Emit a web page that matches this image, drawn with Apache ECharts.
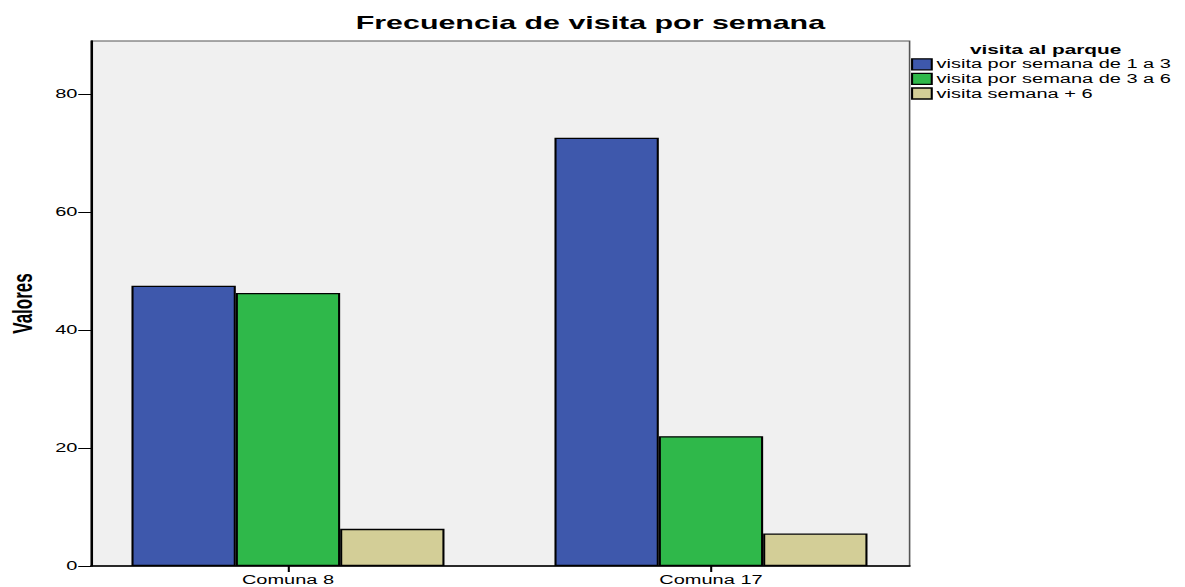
<!DOCTYPE html>
<html>
<head>
<meta charset="utf-8">
<script src="https://cdn.jsdelivr.net/npm/echarts@6/dist/echarts.min.js"></script>
<style>
  html, body { margin: 0; padding: 0; background: #fff; overflow: hidden; }
  #wrap { width: 1185px; height: 587px; overflow: hidden; }
  /* la imagen original esta estirada en horizontal */
  #chart { width: 740.625px; height: 587px; transform: scaleX(1.6); transform-origin: 0 0; }
</style>
</head>
<body>
<div id="wrap"><div id="chart"></div></div>
<script>
// datos
var categorias = ['Comuna 8', 'Comuna 17'];
var serieNombres = ['visita por semana de 1 a 3', 'visita por semana de 3 a 6', 'visita semana + 6'];
var visita1a3 = [47.5, 72.6];
var visita3a6 = [46.3, 22.0];
var visitaMas6 = [6.3, 5.5];
var colores = ['#3e58ac', '#2fb84a', '#d3ce97'];

var font = 'Liberation Sans, Arial, sans-serif';

var myChart = echarts.init(document.getElementById('chart'), null, { renderer: 'svg' });

function barra(nombre, datos, color) {
  return {
    name: nombre,
    type: 'bar',
    xAxisIndex: 1,
    yAxisIndex: 1,
    barGap: '0%',
    barCategoryGap: '26%',
    itemStyle: {
      color: color,
      borderColor: '#000',
      borderWidth: 1.3
    },
    data: datos
  };
}

var option = {
  animation: false,
  backgroundColor: '#fff',
  title: [
    {
      text: 'Frecuencia de visita por semana',
      left: 369,
      top: 13,
      padding: 0,
      textAlign: 'center',
      textStyle: { fontFamily: font, fontWeight: 'bold', fontSize: 19, color: '#000' }
    },
    {
      text: 'visita al parque',
      left: 653.5,
      top: 43,
      padding: 0,
      textAlign: 'center',
      textStyle: { fontFamily: font, fontWeight: 'bold', fontSize: 13, color: '#000' }
    }
  ],
  legend: {
    orient: 'vertical',
    left: 569.4,
    top: 57,
    padding: 0,
    itemWidth: 12.3,
    itemHeight: 11,
    itemGap: 0,
    icon: 'rect',
    data: serieNombres,
    itemStyle: { borderColor: '#000', borderWidth: 1.3 },
    textStyle: { fontFamily: font, fontSize: 12.5, lineHeight: 14.6, color: '#000', padding: [0, 0, 0, -2] }
  },
  grid: [
    {
      left: 56.9,
      right: 172.5,
      top: 41,
      bottom: 21,
      outerBoundsMode: 'none',
      show: true,
      backgroundColor: '#f0f0f0',
      borderColor: '#555',
      borderWidth: 1
    },
    {
      left: 47.8,
      width: 528.75,
      top: 41,
      bottom: 21,
      outerBoundsMode: 'none'
    }
  ],
  xAxis: [
    {
      gridIndex: 0,
      type: 'category',
      data: categorias,
      axisLine: { lineStyle: { color: '#000', width: 1.5 } },
      axisTick: { show: false },
      axisLabel: { show: false },
      splitLine: { show: false }
    },
    {
      gridIndex: 1,
      type: 'category',
      data: categorias,
      axisLine: { show: false },
      axisTick: { show: true, alignWithLabel: true, length: 6, lineStyle: { color: '#000', width: 1.3 } },
      axisLabel: { fontFamily: font, fontSize: 12.5, color: '#000', margin: 7 },
      splitLine: { show: false }
    }
  ],
  yAxis: [
    {
      gridIndex: 0,
      type: 'value',
      min: 0,
      max: 89,
      interval: 20,
      name: 'Valores',
      nameLocation: 'middle',
      nameGap: 34.5,
      nameTextStyle: { fontFamily: font, fontWeight: 'bold', fontSize: 17, color: '#000' },
      axisLine: { show: true, lineStyle: { color: '#000', width: 1.3 } },
      axisTick: { show: true, length: 8, lineStyle: { color: '#000', width: 1 } },
      axisLabel: { fontFamily: font, fontSize: 12.5, color: '#000', margin: 8.5, showMaxLabel: false },
      splitLine: { show: false }
    },
    {
      gridIndex: 1,
      type: 'value',
      min: 0,
      max: 89,
      show: false,
      splitLine: { show: false }
    }
  ],
  series: [
    barra(serieNombres[0], visita1a3, colores[0]),
    barra(serieNombres[1], visita3a6, colores[1]),
    barra(serieNombres[2], visitaMas6, colores[2])
  ]
};

myChart.setOption(option);
</script>
</body>
</html>
